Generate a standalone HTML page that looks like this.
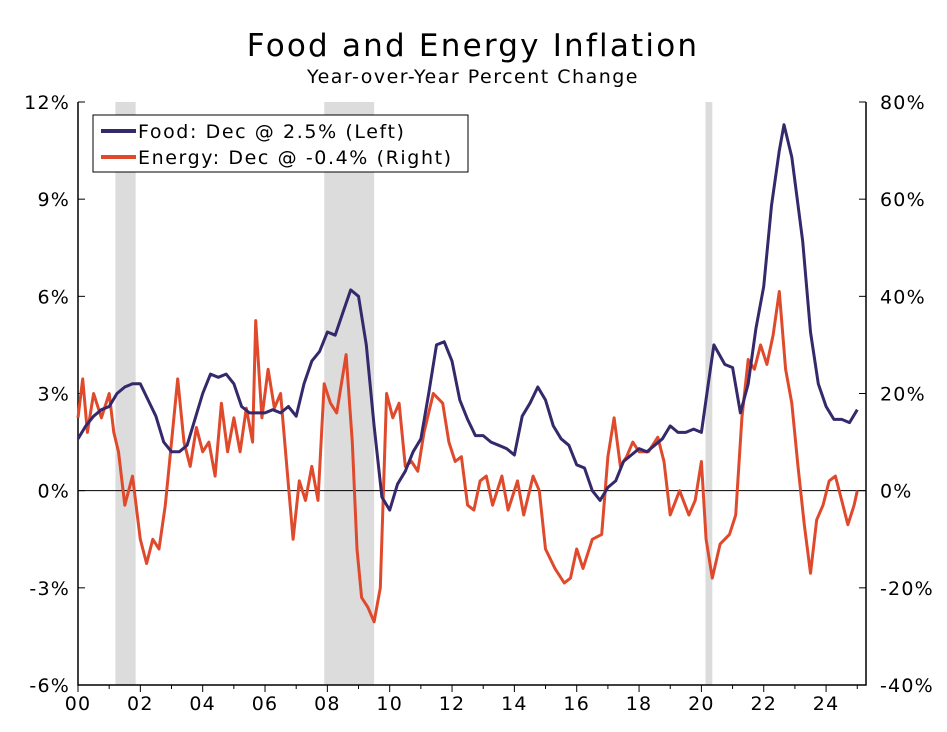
<!DOCTYPE html>
<html><head><meta charset="utf-8"><style>
body{margin:0;background:#fff}
svg text{font-family:"DejaVu Sans","Liberation Sans",sans-serif;fill:#000;letter-spacing:1.2px}
</style></head><body>
<svg id="c" width="947" height="727">
<text x="473" y="56" font-size="31" text-anchor="middle" style="letter-spacing:2.2px">Food and Energy Inflation</text>
<text x="473" y="83" font-size="19" text-anchor="middle" style="letter-spacing:1.5px">Year-over-Year Percent Change</text>
<g id="rec"></g><g id="ax"></g><g id="ser"></g>
<g>
<rect x="93" y="115" width="375" height="57" fill="#fff" stroke="#000" stroke-width="1"/>
<line x1="101" y1="131" x2="136" y2="131" stroke="#35286b" stroke-width="4"/>
<text x="138" y="138" font-size="19" style="letter-spacing:1.6px">Food: Dec @ 2.5% (Left)</text>
<line x1="101" y1="157" x2="136" y2="157" stroke="#e04a2c" stroke-width="4"/>
<text x="138" y="164" font-size="19" style="letter-spacing:1.6px">Energy: Dec @ -0.4% (Right)</text>
</g>
</svg>
<script>
const recessions=[[2001.2,2001.85],[2007.9,2009.5],[2020.13,2020.35]];
const leftTicks=[12,9,6,3,0,-3,-6];
const rightTicks=[80,60,40,20,0,-20,-40];
const yearLabels=["00","02","04","06","08","10","12","14","16","18","20","22","24"];
const foodT=[2000.0,2000.25,2000.5,2000.75,2001.0,2001.25,2001.5,2001.75,2002.0,2002.25,2002.5,2002.75,2003.0,2003.25,2003.5,2003.75,2004.0,2004.25,2004.5,2004.75,2005.0,2005.25,2005.5,2005.75,2006.0,2006.25,2006.5,2006.75,2007.0,2007.25,2007.5,2007.75,2008.0,2008.25,2008.5,2008.75,2009.0,2009.25,2009.5,2009.75,2010.0,2010.25,2010.5,2010.75,2011.0,2011.25,2011.5,2011.75,2012.0,2012.25,2012.5,2012.75,2013.0,2013.25,2013.5,2013.75,2014.0,2014.25,2014.5,2014.75,2015.0,2015.25,2015.5,2015.75,2016.0,2016.25,2016.5,2016.75,2017.0,2017.25,2017.5,2017.75,2018.0,2018.25,2018.5,2018.75,2019.0,2019.25,2019.5,2019.75,2020.0,2020.25,2020.4,2020.75,2021.0,2021.25,2021.5,2021.75,2022.0,2022.25,2022.5,2022.65,2022.9,2023.25,2023.5,2023.75,2024.0,2024.25,2024.5,2024.75,2025.0];
const foodV=[1.6,2.0,2.3,2.5,2.6,3.0,3.2,3.3,3.3,2.8,2.3,1.5,1.2,1.2,1.4,2.2,3.0,3.6,3.5,3.6,3.3,2.6,2.4,2.4,2.4,2.5,2.4,2.6,2.3,3.3,4.0,4.3,4.9,4.8,5.5,6.2,6.0,4.5,2.0,-0.2,-0.6,0.2,0.6,1.2,1.6,3.0,4.5,4.6,4.0,2.8,2.2,1.7,1.7,1.5,1.4,1.3,1.1,2.3,2.7,3.2,2.8,2.0,1.6,1.4,0.8,0.7,0.0,-0.3,0.1,0.3,0.9,1.1,1.3,1.2,1.4,1.6,2.0,1.8,1.8,1.9,1.8,3.5,4.5,3.9,3.8,2.4,3.3,5.0,6.3,8.8,10.5,11.3,10.3,7.7,4.9,3.3,2.6,2.2,2.2,2.1,2.5];
const energyT=[2000.0,2000.15,2000.3,2000.5,2000.75,2001.0,2001.15,2001.3,2001.5,2001.75,2002.0,2002.2,2002.4,2002.6,2002.8,2003.0,2003.2,2003.4,2003.6,2003.8,2004.0,2004.2,2004.4,2004.6,2004.8,2005.0,2005.2,2005.4,2005.6,2005.7,2005.9,2006.1,2006.3,2006.5,2006.7,2006.9,2007.1,2007.3,2007.5,2007.7,2007.9,2008.1,2008.3,2008.6,2008.8,2008.95,2009.1,2009.3,2009.5,2009.7,2009.9,2010.1,2010.3,2010.5,2010.7,2010.9,2011.1,2011.4,2011.7,2011.9,2012.1,2012.3,2012.5,2012.7,2012.9,2013.1,2013.3,2013.6,2013.8,2014.1,2014.3,2014.6,2014.8,2015.0,2015.3,2015.6,2015.8,2016.0,2016.2,2016.5,2016.8,2017.0,2017.2,2017.4,2017.6,2017.8,2018.0,2018.3,2018.6,2018.8,2019.0,2019.3,2019.6,2019.8,2020.0,2020.15,2020.35,2020.6,2020.9,2021.1,2021.3,2021.5,2021.7,2021.9,2022.1,2022.3,2022.5,2022.7,2022.9,2023.1,2023.3,2023.5,2023.7,2023.9,2024.1,2024.3,2024.5,2024.7,2024.9,2025.0];
const energyV=[15,23,12,20,15,20,12,8,-3,3,-10,-15,-10,-12,-3,10,23,10,5,13,8,10,3,18,8,15,8,17,10,35,15,25,17,20,5,-10,2,-2,5,-2,22,18,16,28,10,-12,-22,-24,-27,-20,20,15,18,5,6,4,12,20,18,10,6,7,-3,-4,2,3,-3,3,-4,2,-5,3,0,-12,-16,-19,-18,-12,-16,-10,-9,7,15,5,7,10,8,8,11,6,-5,0,-5,-2,6,-10,-18,-11,-9,-5,15,27,25,30,26,32,41,25,18,5,-7,-17,-6,-3,2,3,-2,-7,-3,0];

const L=78,R=866,T=102,B=685;
const x=y=>L+(y-2000)*31.17;
const yl=v=>T+(12-v)*(B-T)/18;
const yr=v=>T+(80-v)*(B-T)/120;
const NS="http://www.w3.org/2000/svg";
function mk(tag,attrs,parent){const e=document.createElementNS(NS,tag);for(const k in attrs)e.setAttribute(k,attrs[k]);parent.appendChild(e);return e;}
const rec=document.getElementById('rec'),ax=document.getElementById('ax'),ser=document.getElementById('ser');
recessions.forEach(r=>{
 const e=mk('rect',{x:x(r[0]),y:T,width:x(r[1])-x(r[0]),height:B-T,fill:'#dcdcdc'},rec);
 
 
});
let a=mk('path',{d:`M${L},${T}V${B}H${R}V${T}`,stroke:'#000','stroke-width':1.5,fill:'none'},ax);


let z=mk('line',{x1:L,x2:R,y1:yl(0),y2:yl(0),stroke:'#000','stroke-width':1},ax);


leftTicks.forEach(v=>{
 mk('line',{x1:L,x2:L+7,y1:yl(v),y2:yl(v),stroke:'#000'},ax);
 const t=mk('text',{x:L-8,y:yl(v)+7,'font-size':19,'text-anchor':'end'},ax);t.textContent=v+'%';
 
 
});
rightTicks.forEach(v=>{
 mk('line',{x1:R-7,x2:R,y1:yr(v),y2:yr(v),stroke:'#000'},ax);
 const t=mk('text',{x:R+14,y:yr(v)+7,'font-size':19},ax);t.textContent=v+'%';
 
 
});
for(let yr_=2000;yr_<=2025;yr_++){mk('line',{x1:x(yr_),x2:x(yr_),y1:B,y2:B+(yr_%2?4:7),stroke:'#000'},ax);}
yearLabels.forEach((s,i)=>{
 const t=mk('text',{x:x(2000+2*i),y:B+25,'font-size':19,'text-anchor':'middle'},ax);t.textContent=s;
 
 
});
const pe=mk('path',{d:energyT.map((t,i)=>(i?'L':'M')+x(t).toFixed(1)+','+yr(energyV[i]).toFixed(1)).join(''),stroke:'#e04a2c','stroke-width':3,fill:'none','stroke-linejoin':'round'},ser);


const pf=mk('path',{d:foodT.map((t,i)=>(i?'L':'M')+x(t).toFixed(1)+','+yl(foodV[i]).toFixed(1)).join(''),stroke:'#35286b','stroke-width':3,fill:'none','stroke-linejoin':'round'},ser);


</script>
</body></html>
